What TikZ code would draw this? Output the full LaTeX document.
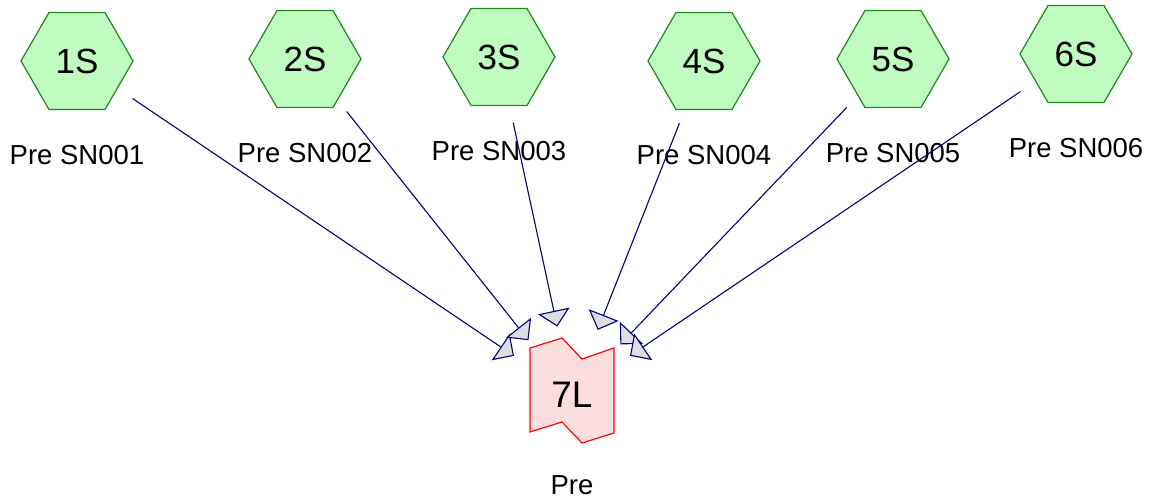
\documentclass[tikz,border=0pt]{standalone}
\usepackage{fontspec}
\setmainfont{Liberation Sans}
\usepackage{xcolor}
\usetikzlibrary{arrows.meta,positioning,shapes.geometric}
\definecolor{hexfill}{RGB}{192,252,192}
\definecolor{hexline}{RGB}{30,135,30}
\definecolor{lfill}{RGB}{253,222,222}
\definecolor{tipfill}{RGB}{222,222,222}
\definecolor{navyline}{RGB}{0,0,128}

\begin{document}
\begin{tikzpicture}[x=1pt, y=-1pt,
  hexnode/.style={regular polygon, regular polygon sides=6, minimum size=112pt, inner sep=0pt, draw=hexline, fill=hexfill, line width=1.2pt, font=\fontsize{35}{38}\selectfont},
  lshape/.style={draw=red, fill=lfill, line width=1.2pt},
  lbl/.style={font=\fontsize{27.5}{30}\selectfont, inner sep=0pt},
  feed/.style={draw=navyline, line width=1.1pt, shorten <=67pt, shorten >=70pt, -{Triangle[width=32pt, length=16pt, fill=tipfill]}}]
\useasboundingbox (0,0) rectangle (1152,499);
\node[hexnode] (s1) at (77,61) {1S};
\node[hexnode] (s2) at (305,59) {2S};
\node[hexnode] (s3) at (499,57) {3S};
\node[hexnode] (s4) at (704,61) {4S};
\node[hexnode] (s5) at (893,59) {5S};
\node[hexnode] (s6) at (1076,54) {6S};
\node[lbl, below=35pt of s1] (p1) {Pre SN001};
\node[lbl, below=35pt of s2] (p2) {Pre SN002};
\node[lbl, below=35pt of s3] (p3) {Pre SN003};
\node[lbl, below=35pt of s4] (p4) {Pre SN004};
\node[lbl, below=35pt of s5] (p5) {Pre SN005};
\node[lbl, below=35pt of s6] (p6) {Pre SN006};
% target
\draw[lshape, shift={(572,395)}] (-42,-47) -- (-10,-57) -- (10,-36) -- (42,-47) -- (42,38) -- (10,48) -- (-10,27) -- (-42,37) -- cycle;
\node[font=\fontsize{37}{40}\selectfont] (t) at (572,395) {7L};
\node[lbl] (tl) at (572,485) {Pre};
\draw[feed] (s1.center) -- (t.center);
\draw[feed] (s2.center) -- (t.center);
\draw[feed] (s3.center) -- (t.center);
\draw[feed] (s4.center) -- (t.center);
\draw[feed] (s5.center) -- (t.center);
\draw[feed] (s6.center) -- (t.center);
\end{tikzpicture}
\end{document}
